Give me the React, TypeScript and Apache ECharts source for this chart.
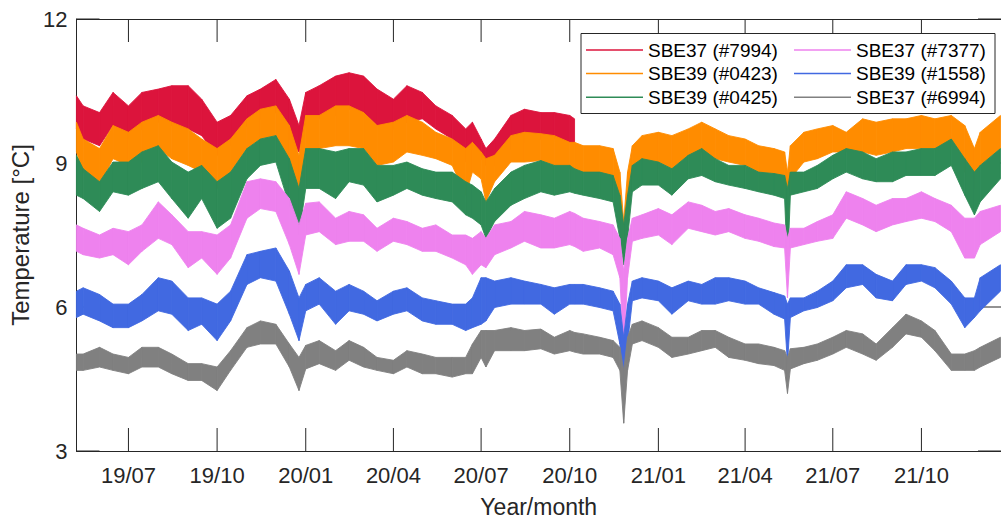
import React, { useEffect, useRef } from "react";
import * as echarts from "echarts";

// sample dates (UTC days)
const dates = [
  "2019-05-08","2019-05-15","2019-06-01","2019-06-15","2019-07-01","2019-07-15","2019-08-01","2019-08-15","2019-09-01","2019-09-15","2019-10-01","2019-10-15","2019-11-01","2019-11-15","2019-12-01","2019-12-15","2019-12-25",
  "2020-01-01","2020-01-15","2020-02-01","2020-02-15","2020-03-01","2020-03-15","2020-04-01","2020-04-15","2020-05-01","2020-05-15","2020-06-01","2020-06-15","2020-06-22","2020-07-01","2020-07-06","2020-07-15","2020-08-01","2020-08-15","2020-09-01","2020-09-15","2020-10-01","2020-10-06","2020-10-15","2020-11-01","2020-11-15","2020-11-22","2020-11-26","2020-11-30","2020-12-05","2020-12-15",
  "2021-01-01","2021-01-15","2021-02-01","2021-02-15","2021-03-01","2021-03-15","2021-04-01","2021-04-15","2021-05-01","2021-05-12","2021-05-15","2021-05-18","2021-06-01","2021-06-15","2021-07-01","2021-07-15","2021-08-01","2021-08-15","2021-09-01","2021-09-15","2021-10-01","2021-10-15","2021-11-01","2021-11-15","2021-11-25","2021-12-01","2021-12-22",
];

const names = ["SBE37 (#7994)", "SBE39 (#0423)", "SBE39 (#0425)", "SBE37 (#7377)", "SBE39 (#1558)", "SBE37 (#6994)"];
const colors = ["#DC143C", "#FF8C00", "#2E8B57", "#EE82EE", "#4169E1", "#808080"];

// upper / lower envelope of each record (degC)
const s7994Hi = [10.40,10.19,10.05,10.47,10.19,10.47,10.54,10.61,10.61,10.33,9.85,9.99,10.40,10.54,10.74,10.33,9.78,
  10.47,10.61,10.81,10.88,10.81,10.54,10.33,10.61,10.47,10.19,9.99,9.71,9.85,9.50,9.30,9.50,9.99,10.12,10.05,10.05,9.99,9.92];
const s7994Lo = [9.71,9.50,9.36,9.78,9.50,9.71,9.85,9.78,9.71,9.57,9.16,9.36,9.78,9.92,10.05,9.50,9.23,
  9.81,9.92,9.99,10.12,10.05,9.78,9.71,9.85,9.92,9.71,9.50,9.02,9.30,9.09,8.95,8.95,9.30,9.43,9.50,9.50,9.43,9.36];

const s0423Hi = [9.85,9.50,9.30,9.78,9.64,9.85,9.99,9.85,9.71,9.50,9.30,9.50,9.92,10.12,10.19,9.78,9.16,
  9.99,9.99,10.19,10.19,10.05,9.78,9.85,9.99,9.85,9.64,9.50,9.30,9.43,9.23,9.09,9.16,9.57,9.64,9.61,9.57,9.43,9.43,9.36,9.36,9.30,8.81,7.78,8.81,9.36,9.57,
  9.64,9.57,9.71,9.85,9.71,9.57,9.50,9.36,9.30,9.23,8.81,9.36,9.64,9.71,9.78,9.64,9.92,9.85,9.92,9.92,9.99,9.92,9.99,9.78,9.30,9.64,9.99];
const s0423Lo = [9.23,8.81,8.54,9.09,8.95,9.02,9.30,9.09,8.95,8.81,8.47,8.81,9.30,9.50,9.57,8.67,8.05,
  9.23,9.30,9.36,9.36,9.30,8.95,9.02,9.23,9.16,9.09,8.95,8.33,8.81,8.67,8.19,8.61,9.02,9.02,9.05,8.95,8.88,8.88,8.81,8.81,8.67,7.71,7.09,7.71,8.67,8.95,
  9.02,8.88,9.16,9.23,9.09,9.02,8.95,8.81,8.78,8.61,7.30,8.67,9.02,9.09,9.23,9.23,9.23,9.16,9.23,9.30,9.30,9.30,9.36,8.81,8.47,8.95,9.30];

const s0425Hi = [9.16,8.88,8.61,9.02,9.02,9.23,9.36,9.02,8.81,8.95,8.61,8.81,9.30,9.50,9.57,9.09,8.47,
  9.30,9.30,9.23,9.30,9.30,8.95,8.95,9.02,8.88,8.81,8.81,8.61,8.54,8.40,8.19,8.47,8.81,8.95,9.05,8.95,8.95,8.88,8.81,8.81,8.74,8.33,7.71,8.33,8.95,9.09,
  9.02,8.88,9.16,9.30,9.09,8.95,8.95,8.81,8.78,8.74,8.47,8.81,8.81,8.95,9.16,9.30,9.23,9.09,9.23,9.23,9.30,9.30,9.50,9.09,8.81,8.95,9.30];
const s0425Lo = [8.33,8.26,7.99,8.40,8.33,8.47,8.61,8.26,7.85,8.26,7.64,7.85,8.67,8.95,9.02,8.12,7.50,
  8.47,8.47,8.26,8.61,8.54,8.19,8.33,8.47,8.33,8.26,8.19,7.92,7.85,7.71,7.43,7.78,8.12,8.26,8.40,8.33,8.40,8.37,8.33,8.26,8.19,7.43,6.88,7.43,8.40,8.54,
  8.54,8.33,8.67,8.74,8.61,8.54,8.47,8.40,8.33,8.26,6.82,8.33,8.40,8.47,8.67,8.81,8.67,8.61,8.61,8.74,8.74,8.74,8.95,8.33,7.92,8.19,8.67];

const s7377Hi = [7.71,7.64,7.50,7.64,7.57,7.71,8.19,7.92,7.57,7.57,7.50,7.71,8.61,8.67,8.61,8.26,7.71,
  8.16,8.19,7.85,7.99,7.92,7.64,7.85,7.78,7.64,7.71,7.50,7.50,7.43,7.57,7.43,7.71,7.78,7.99,7.92,7.85,7.99,7.95,7.85,7.78,7.71,7.43,6.75,7.43,7.85,7.92,
  8.05,7.92,8.19,8.12,7.99,8.05,7.92,7.85,7.75,7.71,7.43,7.64,7.64,7.78,7.92,8.40,8.26,8.12,8.26,8.26,8.40,8.26,8.12,7.85,7.85,7.99,8.12];
const s7377Lo = [7.16,7.09,7.02,7.09,6.88,7.16,7.43,7.30,6.82,7.02,6.68,7.02,7.85,8.05,7.99,7.30,6.68,
  7.50,7.57,7.30,7.37,7.37,7.16,7.37,7.30,7.16,7.16,7.02,6.88,6.68,6.88,6.82,7.09,7.23,7.37,7.23,7.23,7.30,7.26,7.16,7.23,7.09,6.61,5.02,6.61,7.37,7.43,
  7.50,7.30,7.64,7.57,7.50,7.57,7.43,7.37,7.26,7.23,6.19,7.23,7.30,7.37,7.43,7.85,7.71,7.57,7.71,7.78,7.85,7.78,7.57,7.02,7.02,7.30,7.57];

const s1558Hi = [6.33,6.40,6.26,6.06,6.06,6.26,6.61,6.54,6.19,6.19,6.06,6.33,7.09,7.16,7.23,6.75,6.19,
  6.47,6.61,6.33,6.47,6.33,6.13,6.33,6.40,6.19,6.13,6.06,6.06,6.19,6.61,6.61,6.54,6.61,6.54,6.47,6.40,6.47,6.47,6.47,6.40,6.33,6.06,5.37,6.06,6.54,6.61,
  6.54,6.40,6.54,6.47,6.61,6.61,6.54,6.40,6.30,6.23,6.06,6.19,6.19,6.33,6.54,6.88,6.88,6.68,6.54,6.88,6.88,6.82,6.54,6.19,6.19,6.61,6.88];
const s1558Lo = [5.78,5.85,5.71,5.57,5.57,5.71,5.92,5.85,5.51,5.64,5.30,5.71,6.47,6.61,6.54,5.85,5.30,
  5.92,6.06,5.64,5.92,5.85,5.71,5.85,5.92,5.71,5.64,5.64,5.51,5.57,5.64,5.71,5.99,6.06,6.06,6.06,5.85,6.06,6.06,6.06,5.99,5.92,5.23,4.26,5.23,6.13,6.19,
  6.13,5.85,6.13,6.06,6.06,6.13,6.06,6.06,5.85,5.75,4.82,5.78,5.92,5.99,6.13,6.40,6.47,6.19,6.13,6.47,6.54,6.40,6.06,5.57,5.78,5.92,6.33];

const s6994Hi = [5.02,5.02,5.16,5.02,4.95,5.16,5.16,5.02,4.82,4.82,4.75,5.09,5.57,5.71,5.64,5.23,4.95,
  5.20,5.30,5.09,5.30,5.16,4.95,4.89,5.09,5.02,4.95,4.95,4.95,5.23,5.51,5.51,5.51,5.57,5.51,5.54,5.37,5.51,5.47,5.44,5.37,5.30,5.16,4.68,5.37,5.64,5.71,
  5.57,5.37,5.37,5.51,5.51,5.37,5.23,5.23,5.16,5.09,4.95,5.13,5.16,5.23,5.37,5.51,5.44,5.23,5.57,5.85,5.71,5.51,5.02,5.02,5.09,5.16,5.37];
const s6994Lo = [4.68,4.68,4.75,4.68,4.61,4.75,4.75,4.61,4.47,4.47,4.26,4.68,5.16,5.23,5.23,4.75,4.26,
  4.71,4.82,4.68,4.89,4.75,4.68,4.61,4.75,4.61,4.61,4.54,4.61,4.61,4.95,4.75,5.09,5.09,5.09,5.13,5.02,5.09,5.06,5.02,5.02,4.95,4.68,3.58,4.68,5.23,5.30,
  5.16,4.95,5.02,5.09,5.16,4.95,4.89,4.82,4.78,4.68,4.20,4.71,4.82,4.89,5.02,5.16,5.02,4.89,5.16,5.44,5.37,5.09,4.68,4.68,4.68,4.75,4.95];

const tickDates = ["2019-07-01","2019-10-01","2020-01-01","2020-04-01","2020-07-01","2020-10-01","2021-01-01","2021-04-01","2021-07-01","2021-10-01"];
const tickLabels = ["19/07","19/10","20/01","20/04","20/07","20/10","21/01","21/04","21/07","21/10"];
const yTicks = [3, 6, 9, 12];

const FONT = "'Liberation Sans', Arial, Helvetica, sans-serif";
const AXIS = "#262626";
const TICK_LEN = 23;

const toTs = (s: string) => Date.UTC(+s.slice(0, 4), +s.slice(5, 7) - 1, +s.slice(8, 10));

export default function App() {
  const ref = useRef<HTMLDivElement>(null);
  useEffect(() => {
    document.body.style.margin = "0";
    if (!ref.current) return;
    const chart = echarts.init(ref.current, undefined, { renderer: "svg" });
    const ts = dates.map(toTs);
    const tickTs = tickDates.map(toTs);
    const labelOf: Record<number, string> = {};
    tickTs.forEach((t, i) => (labelOf[t] = tickLabels[i]));
    const xMin = Date.UTC(2019, 4, 8, 2);
    const xMax = Date.UTC(2021, 11, 22, 14);
    const yMin = yTicks[0];
    const yMax = yTicks[yTicks.length - 1];

    const his = [s7994Hi, s0423Hi, s0425Hi, s7377Hi, s1558Hi, s6994Hi];
    const los = [s7994Lo, s0423Lo, s0425Lo, s7377Lo, s1558Lo, s6994Lo];

    const tickLine = (x1: number, y1: number, x2: number, y2: number) => ({
      type: "line",
      shape: { x1, y1, x2, y2 },
      style: { stroke: AXIS, lineWidth: 1 },
    });

    // inward ticks on all four sides (drawn beneath the data, as in the original)
    const series: any[] = [
      {
        name: "xticks",
        type: "custom",
        silent: true,
        clip: false,
        data: tickTs.map((t) => [t, yMin]),
        encode: { x: 0, y: 1 },
        renderItem: (_p: any, api: any) => {
          const b = api.coord([api.value(0), yMin]);
          const t = api.coord([api.value(0), yMax]);
          return {
            type: "group",
            children: [tickLine(b[0], b[1], b[0], b[1] - TICK_LEN), tickLine(t[0], t[1], t[0], t[1] + TICK_LEN)],
          };
        },
      },
      {
        name: "yticks",
        type: "custom",
        silent: true,
        clip: false,
        data: yTicks.map((v) => [xMin, v]),
        encode: { x: 0, y: 1 },
        renderItem: (_p: any, api: any) => {
          const l = api.coord([xMin, api.value(1)]);
          const r = api.coord([xMax, api.value(1)]);
          return {
            type: "group",
            children: [tickLine(l[0], l[1], l[0] + TICK_LEN, l[1]), tickLine(r[0], r[1], r[0] - TICK_LEN, r[1])],
          };
        },
      },
    ];

    // each band is drawn as quadrilaterals between consecutive samples
    names.forEach((name, i) => {
      const hi = his[i];
      const lo = los[i];
      const color = colors[i];
      const segs: number[][] = [];
      for (let j = 0; j < hi.length - 1; j++) {
        segs.push([ts[j], lo[j], hi[j], ts[j + 1], lo[j + 1], hi[j + 1]]);
      }
      series.push({
        name,
        type: "custom",
        silent: true,
        color,
        itemStyle: { color },
        encode: { x: [0, 3], y: [1, 2, 4, 5] },
        data: segs,
        renderItem: (_p: any, api: any) => {
          const a = api.coord([api.value(0), api.value(2)]);
          const b = api.coord([api.value(3), api.value(5)]);
          const c = api.coord([api.value(3), api.value(4)]);
          const d = api.coord([api.value(0), api.value(1)]);
          return {
            type: "polygon",
            shape: { points: [a, b, c, d] },
            style: { fill: color, stroke: color, lineWidth: 0.9, lineJoin: "round" },
          };
        },
      });
    });

    const legendBase = {
      orient: "vertical",
      top: 40.5,
      padding: 0,
      itemWidth: 57,
      itemHeight: 1.5,
      itemGap: 4.6,
      icon: "rect",
      z: 11,
      selectedMode: false,
      textStyle: { fontSize: 19, color: "#000", fontFamily: FONT },
    };

    const lineStyle = { color: AXIS, width: 1 };

    chart.setOption({
      animation: false,
      textStyle: { fontFamily: FONT },
      grid: { left: 76.5, top: 19, width: 935, height: 435.3, containLabel: false },
      xAxis: [
        {
          type: "value",
          min: xMin,
          max: xMax,
          position: "bottom",
          name: "Year/month",
          nameLocation: "middle",
          nameGap: 44,
          nameTextStyle: { fontSize: 23, color: AXIS, fontFamily: FONT },
          axisLine: { show: true, onZero: false, lineStyle },
          axisTick: { show: false },
          axisLabel: {
            customValues: tickTs,
            margin: 13.5,
            fontSize: 22,
            color: AXIS,
            fontFamily: FONT,
            formatter: (v: number) => labelOf[v] ?? "",
          },
          splitLine: { show: false },
        },
        {
          type: "value",
          min: xMin,
          max: xMax,
          position: "top",
          axisLine: { show: true, onZero: false, lineStyle },
          axisTick: { show: false },
          axisLabel: { show: false },
          splitLine: { show: false },
        },
      ],
      yAxis: [
        {
          type: "value",
          min: yMin,
          max: yMax,
          interval: 3,
          position: "left",
          name: "Temperature [°C]",
          nameLocation: "middle",
          nameGap: 41,
          nameTextStyle: { fontSize: 24, color: AXIS, fontFamily: FONT },
          axisLine: { show: true, onZero: false, lineStyle },
          axisTick: { show: false },
          axisLabel: { customValues: yTicks, margin: 9, fontSize: 22, color: AXIS, fontFamily: FONT },
          splitLine: { show: false },
        },
        {
          type: "value",
          min: yMin,
          max: yMax,
          interval: 3,
          position: "right",
          axisLine: { show: true, onZero: false, lineStyle },
          axisTick: { show: false },
          axisLabel: { show: false },
          splitLine: { show: false },
        },
      ],
      legend: [
        { ...legendBase, left: 586, data: names.slice(0, 3) },
        { ...legendBase, left: 794, data: names.slice(3, 6) },
      ],
      graphic: [
        {
          type: "rect",
          z: 10,
          shape: { x: 581, y: 33.5, width: 414, height: 80 },
          style: { fill: "#ffffff", stroke: AXIS, lineWidth: 1 },
        },
      ],
      series,
    });
    return () => chart.dispose();
  }, []);
  return <div ref={ref} style={{ width: 1001, height: 523 }} />;
}
